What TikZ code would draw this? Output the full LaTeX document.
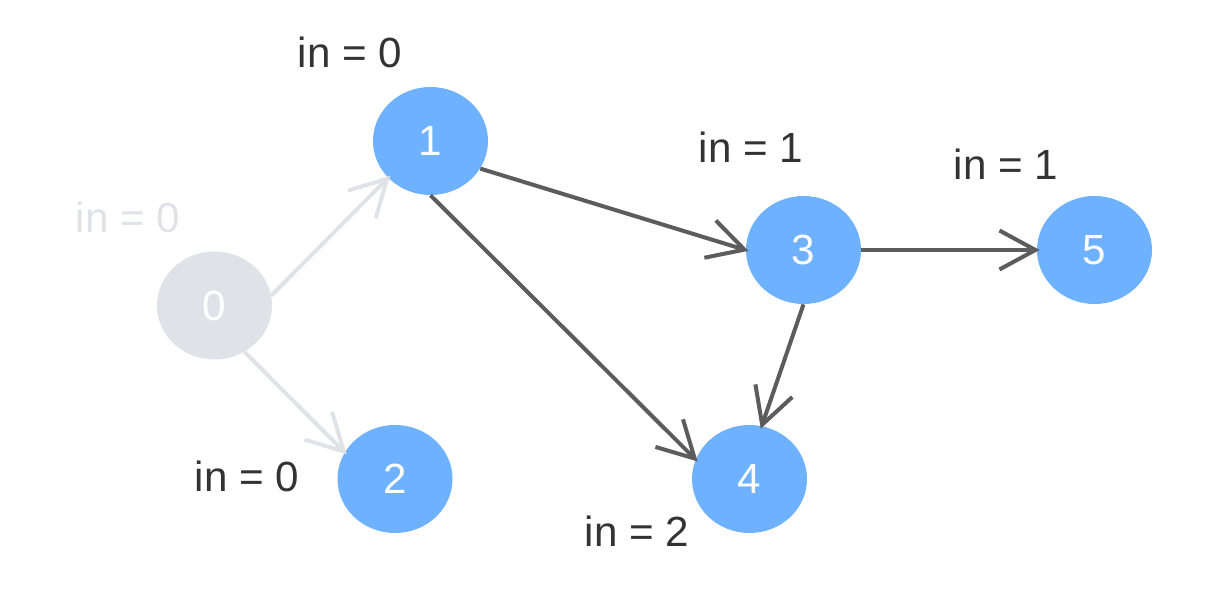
\documentclass[tikz,border=0pt]{standalone}
\usepackage{fontspec}
\setmainfont{Liberation Sans}
\usetikzlibrary{shapes.geometric, arrows.meta}
\definecolor{vblue}{HTML}{6DB1FF}
\definecolor{vgray}{HTML}{DFE2E7}
\definecolor{edgedark}{HTML}{5C5C5C}
\definecolor{textdark}{HTML}{333333}
\tikzset{
    vertex/.style={ellipse, fill=vblue, minimum width=2.3cm, minimum height=2.16cm,
                   inner sep=0pt, text=white, font=\fontsize{24}{28}\selectfont},
    vertexdone/.style={vertex, fill=vgray},
    edge/.style={-{Straight Barb[length=0.72cm, width=0.78cm]}, line width=0.08cm,
                 draw=edgedark, shorten >=-0.06cm},
    edgedone/.style={edge, draw=vgray},
    indeg/.style={anchor=base, inner sep=0pt, text=textdark, font=\fontsize{24}{28}\selectfont},
    indegdone/.style={indeg, text=vgray},
}

\begin{document}
\begin{tikzpicture}[x=0.2mm, y=0.2mm]

    \useasboundingbox (0,0) rectangle (1221,591);

    % Vertices
    \node[vertexdone] at (214.5,285.5) (n0) {0};
    \node[vertex] at (430.5,450) (n1) {1};
    \node[vertex] at (395,112)   (n2) {2};
    \node[vertex] at (803.5,341) (n3) {3};
    \node[vertex] at (749.5,112) (n4) {4};
    \node[vertex] at (1094.5,341) (n5) {5};

    % In-degree labels
    \node[indegdone] at (128,358) (d0) {in = 0};
    \node[indeg] at (350,523)  (d1) {in = 0};
    \node[indeg] at (247,99)   (d2) {in = 0};
    \node[indeg] at (751,428)  (d3) {in = 1};
    \node[indeg] at (637,44)   (d4) {in = 2};
    \node[indeg] at (1006,411) (d5) {in = 1};

    % Removed edges
    \draw[edgedone] (n0.10) -- (n1.221);
    \draw[edgedone] (n0.-57) -- (n2.152);

    % Remaining edges
    \draw[edge] (n1.-29) -- (n3.west);
    \draw[edge] (n1.south) -- (n4.160);
    \draw[edge] (n3.south) -- (n4.77);
    \draw[edge] (n3.east) -- (n5.west);

\end{tikzpicture}
\end{document}
